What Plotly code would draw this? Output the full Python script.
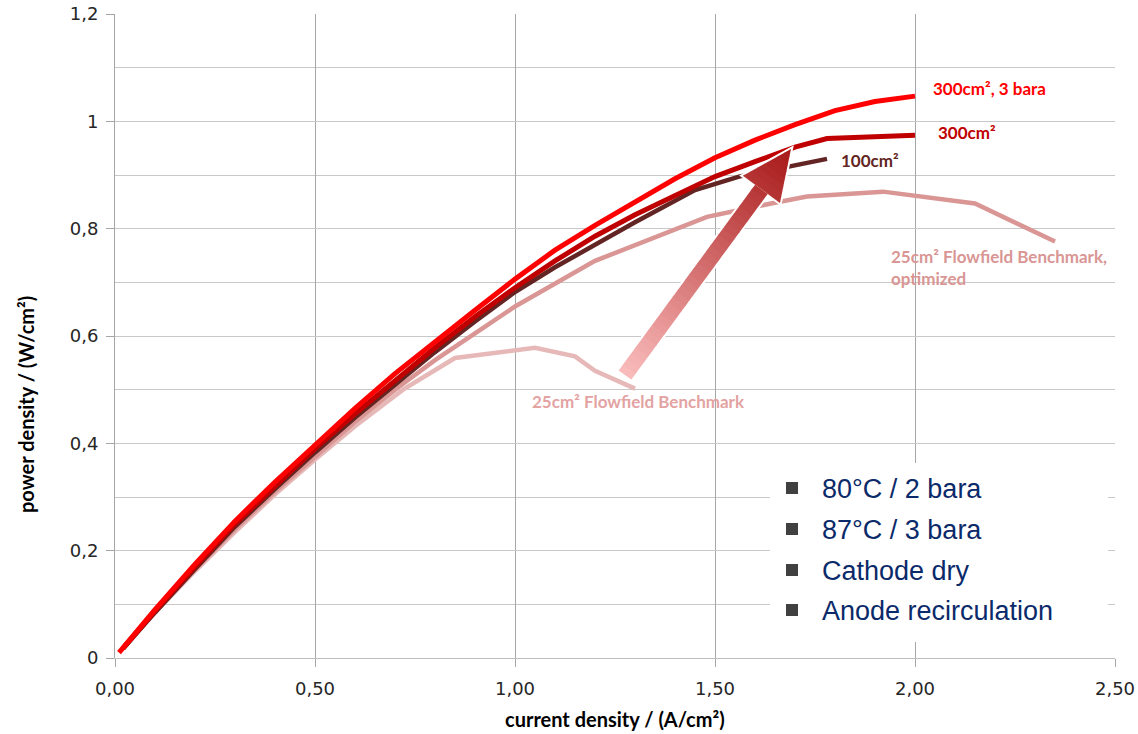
import numpy as np
import plotly.graph_objects as go

# ---------------- data ----------------
red_x = [0.01, 0.05, 0.1, 0.2, 0.3, 0.4, 0.5, 0.6, 0.7, 0.8, 0.9, 1.0, 1.1, 1.2,
         1.3, 1.4, 1.5, 1.6, 1.7, 1.8, 1.9, 2.0]
red_y = [0.01, 0.046, 0.09, 0.175, 0.255, 0.328, 0.398, 0.465, 0.53, 0.59, 0.648,
         0.706, 0.76, 0.806, 0.85, 0.893, 0.932, 0.965, 0.994, 1.02, 1.037, 1.047]

dred_x = [0.02, 0.1, 0.2, 0.3, 0.4, 0.5, 0.6, 0.7, 0.8, 0.9, 1.0, 1.1, 1.2, 1.3,
          1.4, 1.5, 1.6, 1.7, 1.78, 1.9, 2.0]
dred_y = [0.018, 0.088, 0.17, 0.25, 0.32, 0.39, 0.455, 0.518, 0.578, 0.636, 0.69,
          0.74, 0.786, 0.826, 0.862, 0.897, 0.925, 0.952, 0.968, 0.970, 0.974]

brown_x = [0.02, 0.1, 0.2, 0.3, 0.4, 0.5, 0.6, 0.7, 0.8, 0.9, 1.0, 1.1, 1.2, 1.3,
           1.45, 1.56, 1.78]
brown_y = [0.017, 0.085, 0.166, 0.245, 0.315, 0.383, 0.448, 0.51, 0.57, 0.627,
           0.682, 0.728, 0.77, 0.812, 0.872, 0.897, 0.930]

opt_x = [0.05, 0.1, 0.2, 0.3, 0.4, 0.5, 0.6, 0.7, 0.8, 0.9, 1.0, 1.2, 1.48, 1.64,
         1.73, 1.92, 2.15, 2.35]
opt_y = [0.045, 0.085, 0.165, 0.24, 0.31, 0.375, 0.44, 0.5, 0.555, 0.605, 0.655,
         0.74, 0.822, 0.847, 0.86, 0.869, 0.847, 0.776]

bench_x = [0.06, 0.1, 0.2, 0.3, 0.4, 0.5, 0.6, 0.72, 0.85, 1.05, 1.15, 1.2, 1.3]
bench_y = [0.052, 0.085, 0.162, 0.235, 0.305, 0.37, 0.432, 0.5, 0.559, 0.578,
           0.562, 0.535, 0.502]

legend_items = ["80°C / 2 bara", "87°C / 3 bara", "Cathode dry", "Anode recirculation"]

x_ticks = [0, 0.5, 1.0, 1.5, 2.0, 2.5]
y_ticks = [0, 0.2, 0.4, 0.6, 0.8, 1.0, 1.2]

# ---------------- geometry ----------------
W, H = 1138, 734
SL, ST, SR, SB = 115, 14, 1115, 658          # plot area in window pixels
ML, MT, MR, MB = SL, ST, W - SR, H - SB
PW, PH = SR - SL, SB - ST
XMAX, YMAX = 2.5, 1.2


def to_data(px, py):
    return (px - SL) / PW * XMAX, (SB - py) / PH * YMAX


def to_paper(px, py):
    return (px - SL) / PW, (SB - py) / PH


fig = go.Figure()

series = [
    (bench_x, bench_y, "#e6b9b8", 4.5, "25cm² Flowfield Benchmark"),
    (opt_x, opt_y, "#d99694", 4.5, "25cm² Flowfield Benchmark, optimized"),
    (brown_x, brown_y, "#632523", 4.5, "100cm²"),
    (dred_x, dred_y, "#c00000", 5, "300cm²"),
    (red_x, red_y, "#ff0000", 5, "300cm², 3 bara"),
]
for xs, ys, col, wd, nm in series:
    fig.add_trace(go.Scatter(x=xs, y=ys, mode="lines", name=nm,
                             line=dict(color=col, width=wd), showlegend=False,
                             hoverinfo="skip", cliponaxis=False))

shapes = []

# ---------------- gradient arrow ----------------
tail = np.array([625.0, 375.0])
tip = np.array([791.0, 149.0])
vec = tip - tail
length = np.hypot(*vec)
u = vec / length
n = np.array([-u[1], u[0]])
head_len, shaft_hw, head_hw = 50.0, 7.8, 23.0
shaft_len = length - head_len


def path_from(points):
    parts = []
    for i, (px, py) in enumerate(points):
        dx, dy = to_data(px, py)
        parts.append(("M" if i == 0 else "L") + f"{dx:.5f},{dy:.5f}")
    return " ".join(parts) + " Z"


base = tail + u * shaft_len
outline = [tail + n * shaft_hw, base + n * shaft_hw, base + n * head_hw, tip,
           base - n * head_hw, base - n * shaft_hw, tail - n * shaft_hw]
shapes.append(dict(type="path", path=path_from(outline), xref="x", yref="y",
                   fillcolor="white", line=dict(color="white", width=4), layer="above"))

c0 = np.array([251, 189, 189])
c1 = np.array([168, 24, 24])
N = 40


def half_width(s):
    if s <= shaft_len:
        return shaft_hw
    return head_hw * (length - s) / head_len


for i in range(N):
    s0 = length * i / N
    s1 = min(length, length * (i + 1) / N + 0.6)
    t = (i + 0.5) / N
    col = c0 + (c1 - c0) * t
    colstr = f"rgb({int(col[0])},{int(col[1])},{int(col[2])})"
    cuts = [s0, s1]
    if s0 < shaft_len < s1:
        cuts = [s0, shaft_len, s1]
    for a, b in zip(cuts[:-1], cuts[1:]):
        wa = shaft_hw if a <= shaft_len and b <= shaft_len else (
            head_hw if abs(a - shaft_len) < 1e-9 else half_width(a))
        wb = shaft_hw if b <= shaft_len else half_width(b)
        pa = tail + u * a
        pb = tail + u * b
        poly = [pa + n * wa, pb + n * wb, pb - n * wb, pa - n * wa]
        shapes.append(dict(type="path", path=path_from(poly), xref="x", yref="y",
                           fillcolor=colstr, line=dict(width=0), layer="above"))

# ---------------- legend-like box ----------------
bx0, by0 = to_paper(770, 463)
bx1, by1 = to_paper(1108, 642)
shapes.append(dict(type="rect", xref="paper", yref="paper", x0=bx0, x1=bx1, y0=by1, y1=by0,
                   fillcolor="white", line=dict(width=0), layer="above"))

annotations = []
legend_y = [488, 529, 570, 610]
for txt, yc in zip(legend_items, legend_y):
    sx0, sy0 = to_paper(786, yc - 6)
    sx1, sy1 = to_paper(798, yc + 6)
    shapes.append(dict(type="rect", xref="paper", yref="paper", x0=sx0, x1=sx1, y0=sy1, y1=sy0,
                       fillcolor="#404040", line=dict(width=0), layer="above"))
    ax, ay = to_paper(820, yc + 1)
    annotations.append(dict(text=txt, x=ax, y=ay, xref="paper", yref="paper",
                            xanchor="left", yanchor="middle", showarrow=False,
                            font=dict(family="Liberation Sans, Arial", size=27, color="#0b2a6a")))

# ---------------- curve labels ----------------
labels = [
    ("300cm², 3 bara", 931, 88, "#ff0000"),
    ("300cm²", 936, 132, "#c00000"),
    ("100cm²", 839, 160, "#632523"),
    ("25cm² Flowfield Benchmark,<br>optimized", 889, 267, "#d99694"),
    ("25cm² Flowfield Benchmark", 530, 401, "#e3a3a2"),
]
for txt, px, py, col in labels:
    dx, dy = to_data(px, py)
    annotations.append(dict(text=txt, x=dx, y=dy, xref="x", yref="y", xanchor="left",
                            yanchor="middle", showarrow=False, align="left",
                            font=dict(family="Lato, Open Sans", size=17, color=col,
                                      weight="bold")))

# axis titles
tx, ty = to_paper(615, 719)
annotations.append(dict(text="current density / (A/cm²)", x=tx, y=ty, xref="paper", yref="paper",
                        xanchor="center", yanchor="middle", showarrow=False,
                        font=dict(family="Lato, Open Sans", size=20, color="#000000", weight="bold")))
tx, ty = to_paper(26, 405)
annotations.append(dict(text="power density / (W/cm²)", x=tx, y=ty, xref="paper", yref="paper",
                        xanchor="center", yanchor="middle", showarrow=False, textangle=-90,
                        font=dict(family="Lato, Open Sans", size=20, color="#000000", weight="bold")))

tick_font = dict(family="DejaVu Sans", size=18, color="#262626")

fig.update_layout(
    width=W, height=H,
    margin=dict(l=ML, r=MR, t=MT, b=MB, pad=0, autoexpand=False),
    paper_bgcolor="white", plot_bgcolor="white",
    separators=", ",
    showlegend=False,
    shapes=shapes,
    annotations=annotations,
    xaxis=dict(range=[0, XMAX], tickvals=x_ticks, tickformat=".2f", automargin=False,
               showgrid=True, gridcolor="#a6a6a6", gridwidth=1,
               showline=True, linecolor="#bfbfbf", linewidth=1,
               ticks="outside", ticklen=8, tickcolor="#a6a6a6", ticklabelstandoff=6,
               ticklabeloverflow="allow",
               tickfont=tick_font, zeroline=False, fixedrange=True),
    yaxis=dict(range=[0, YMAX], tickvals=y_ticks, automargin=False,
               showgrid=True, gridcolor="#c8c8c8", gridwidth=1,
               minor=dict(dtick=0.1, tick0=0, showgrid=True, gridcolor="#c8c8c8", gridwidth=1),
               showline=True, linecolor="#a6a6a6", linewidth=1,
               ticks="outside", ticklen=8, tickcolor="#a6a6a6", ticklabelstandoff=4,
               ticklabeloverflow="allow",
               tickfont=tick_font, zeroline=False, fixedrange=True),
)

# the page's default 8px body margin would push the fixed-size figure off the window
fig.write_html("out.html", config={"displayModeBar": False},
               post_script="document.body.style.margin='0';document.body.style.overflow='hidden';")
